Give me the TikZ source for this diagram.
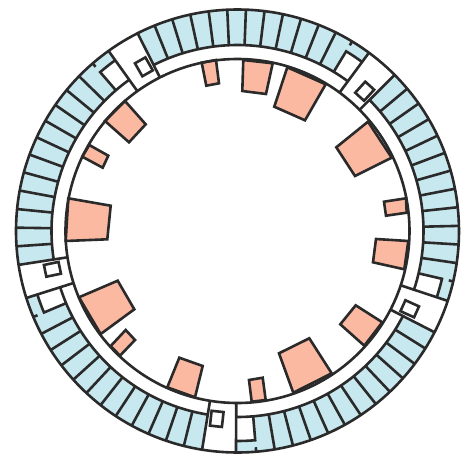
\documentclass[tikz,border=0pt]{standalone}
\usepackage{tikz}
\definecolor{wall}{HTML}{2B2A2B}
\definecolor{cell}{HTML}{C8E8EF}
\definecolor{hall}{HTML}{FCB9A2}
\tikzset{
  wallline/.style={draw=wall, line width=1.95pt, line join=miter},
  hallroom/.style={wallline, fill=hall},
  gatebox/.style={
    wallline, fill=white, inner sep=0pt,
    minimum width=11.2pt, minimum height=9pt
  }
}

\begin{document}
\begin{tikzpicture}[x=0.75pt,y=0.75pt]
    \useasboundingbox (-237.5,-227) rectangle (224.5,231);
    % outer ring
    \fill[cell] (0,0) circle[radius=221.5];
    \fill[white] (0,0) circle[radius=186];
    % gates and the rooms beside them
    \foreach \c in {49.2,121.2,193.2,265.2,337.2} {
      \fill[white] (\c-4.4:186) -- (\c-4.4:221.5) arc[start angle=\c-4.4, end angle=\c+4.4, radius=221.5]
        -- (\c+4.4:186) -- cycle;
      \fill[white] (\c+4.4:186) -- (\c+4.4:210) arc[start angle=\c+4.4, end angle=\c+9.64, radius=210]
        -- (\c+9.64:186) arc[start angle=\c+9.64, end angle=\c+4.4, radius=186];
    }
    % cell walls
    \foreach \c in {49.2,121.2,193.2,265.2,337.2} {
      \draw[wallline] (\c+4.4:186) arc[start angle=\c+4.4, end angle=\c+67.6, radius=186];
      \draw[wallline] (\c-4.4:172) -- (\c-4.4:221.5);
      \draw[wallline] (\c+4.4:172) -- (\c+4.4:221.5);
      \draw[wallline] (\c+4.4:210) arc[start angle=\c+4.4, end angle=\c+9.64, radius=210]
        -- (\c+9.64:186);
      \draw[wallline] (\c+9.64:217) -- (\c+9.64:221.5);
      \foreach \k in {1,...,11}
        \draw[wallline] (\c+9.64+4.83*\k:186) -- (\c+9.64+4.83*\k:221.5);
    }
    \foreach \c [count=\i] in {49.2,121.2,193.2,265.2,337.2}
      \node[gatebox, rotate=\c-1.5] (gate\i) at (\c-1.5:189) {};
    % halls, in picture pixels
    \begin{scope}[shift={(-237.5,231)}, yscale=-1]
      \draw[hallroom] (201.7,62.7) -- (216,60) -- (219,83.3) -- (206.3,85.7) -- cycle;
      \draw[hallroom] (243.3,60) -- (272.7,63.3) -- (266,94) -- (242.3,91) -- cycle;
      \draw[hallroom] (287.3,67.3) -- (325.7,84.3) -- (305,120.3) -- (274.3,106.7) -- cycle;
      \draw[hallroom] (368,121.7) -- (391.7,157.7) -- (355,176) -- (336.3,147.3) -- cycle;
      \draw[hallroom] (384,201.7) -- (406,198.3) -- (406.7,212.7) -- (386,215.7) -- cycle;
      \draw[hallroom] (376,239) -- (408.3,241) -- (404.3,269.3) -- (373,262.3) -- cycle;
      \draw[hallroom] (355.7,305.3) -- (382.3,322.3) -- (364.3,345.7) -- (340.3,324.3) -- cycle;
      \draw[hallroom] (309.3,338.3) -- (331.7,373.3) -- (293.3,392.7) -- (279,353.3) -- cycle;
      \draw[hallroom] (249,380) -- (262.7,377.7) -- (265.7,400) -- (251.7,401.7) -- cycle;
      \draw[hallroom] (179.3,357.7) -- (202.7,366) -- (195,397.3) -- (167.3,387.3) -- cycle;
      \draw[hallroom] (125.7,330) -- (135,340) -- (120,355.7) -- (110.7,346) -- cycle;
      \draw[hallroom] (117.7,280.7) -- (134.3,309.3) -- (100.7,334) -- (79,297.3) -- cycle;
      \draw[hallroom] (68.3,198.3) -- (110.7,205.7) -- (107.3,239.3) -- (65.7,241) -- cycle;
      \draw[hallroom] (89.3,145) -- (108.3,155.7) -- (102.7,167.7) -- (82.3,156.7) -- cycle;
      \draw[hallroom] (125,101) -- (145.7,124.3) -- (129,142.3) -- (105,121) -- cycle;
    \end{scope}
    % corridor and outer wall
    \draw[wallline] (0,0) circle[radius=172];
    \draw[wallline] (0,0) circle[radius=221.5];
  \end{tikzpicture}
\end{document}
